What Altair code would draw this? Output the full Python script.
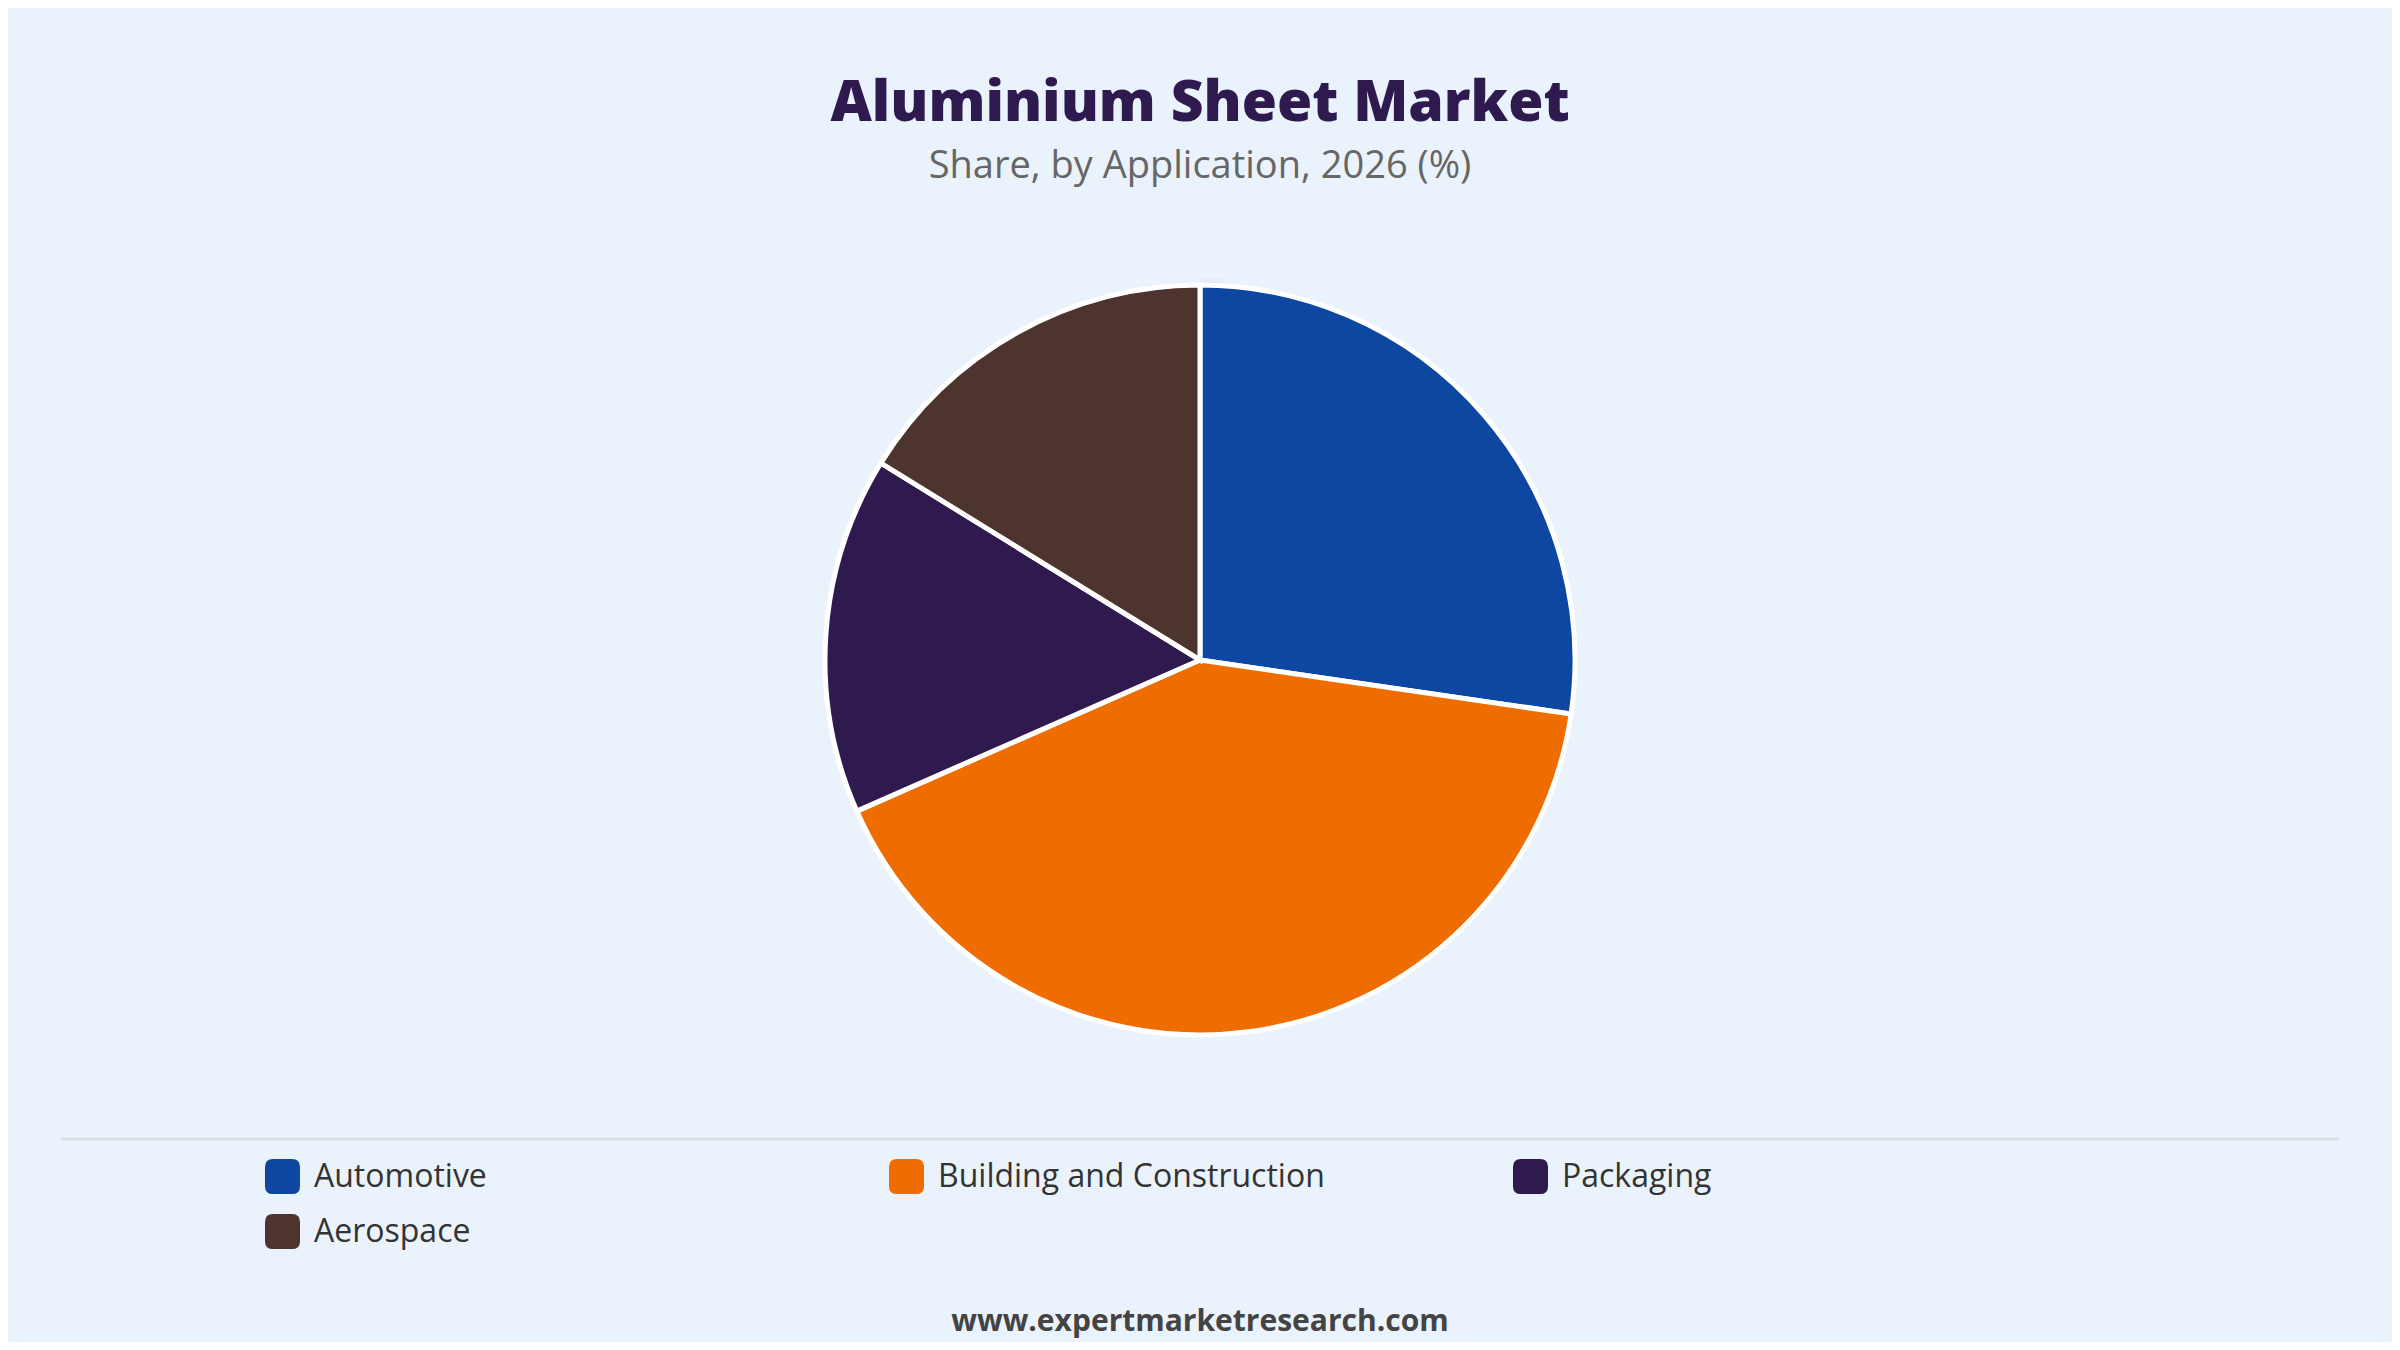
import altair as alt
import pandas as pd

categories = ["Automotive", "Building and Construction", "Packaging", "Aerospace"]
shares = [27.3, 41.1, 15.4, 16.2]
colors = ["#0D47A1", "#EF6C00", "#2E1A4F", "#4E342E"]
title_text = "Aluminium Sheet Market"
subtitle_text = "Share, by Application, 2026 (%)"
footer_text = "www.expertmarketresearch.com"

df = pd.DataFrame({"Application": categories, "Share": shares,
                   "order": list(range(len(categories)))})

FONT = "Open Sans"
W = 2384
TOP = 230
H = 1334 - TOP
CX, CY = 1192, 422
R = 375

rounded = ("M -0.55,-1 L 0.55,-1 Q 1,-1 1,-0.55 L 1,0.55 Q 1,1 0.55,1 "
           "L -0.55,1 Q -1,1 -1,0.55 L -1,-0.55 Q -1,-1 -0.55,-1 Z")

one = pd.DataFrame({"v": [1]})

shadow1 = alt.Chart(one).mark_arc(radius=R + 10, color="#000000", opacity=0.025).encode(
    theta="v:Q", x=alt.value(CX), y=alt.value(CY + 3))
shadow2 = alt.Chart(one).mark_arc(radius=R + 5, color="#000000", opacity=0.04).encode(
    theta="v:Q", x=alt.value(CX), y=alt.value(CY + 2))

pie = alt.Chart(df).mark_arc(radius=R, stroke="white", strokeWidth=5).encode(
    theta=alt.Theta("Share:Q", stack=True),
    color=alt.Color(
        "Application:N",
        scale=alt.Scale(domain=categories, range=colors),
        sort=categories,
        legend=alt.Legend(
            title=None, orient="none", legendX=257, legendY=921,
            direction="horizontal", columns=3, gridAlign="all",
            columnPadding=188, rowPadding=20,
            symbolType=rounded, symbolSize=1225, symbolStrokeWidth=0,
            symbolOpacity=1,
            labelFont=FONT, labelFontSize=32, labelColor="#333333",
            labelOffset=14, labelLimit=600,
        ),
    ),
    order=alt.Order("order:Q"),
    x=alt.value(CX), y=alt.value(CY),
)

rule = alt.Chart(one).mark_rule(color="#d9dde3", strokeWidth=3).encode(
    x=alt.value(53), x2=alt.value(2331), y=alt.value(901))

footer = alt.Chart(pd.DataFrame({"t": [footer_text]})).mark_text(
    font=FONT, fontSize=30, fontWeight="bold", color="#444444",
    align="center", baseline="middle").encode(
    text="t:N", x=alt.value(CX), y=alt.value(1084))

chart = alt.layer(shadow1, shadow2, pie, rule, footer).properties(
    width=W, height=H,
    autosize="none",
    padding={"left": 0, "right": 0, "top": TOP, "bottom": 0},
    background="#EAF2FB",
    title=alt.TitleParams(
        text=title_text, subtitle=subtitle_text,
        font=FONT, fontSize=57, fontWeight=800, color="#2E1A4F",
        subtitleFont=FONT, subtitleFontSize=38, subtitleColor="#666666",
        subtitlePadding=15, anchor="middle", offset=51,
    ),
).configure_view(stroke=None)

chart.save("out.html", embed_options={"renderer": "svg", "actions": False})
